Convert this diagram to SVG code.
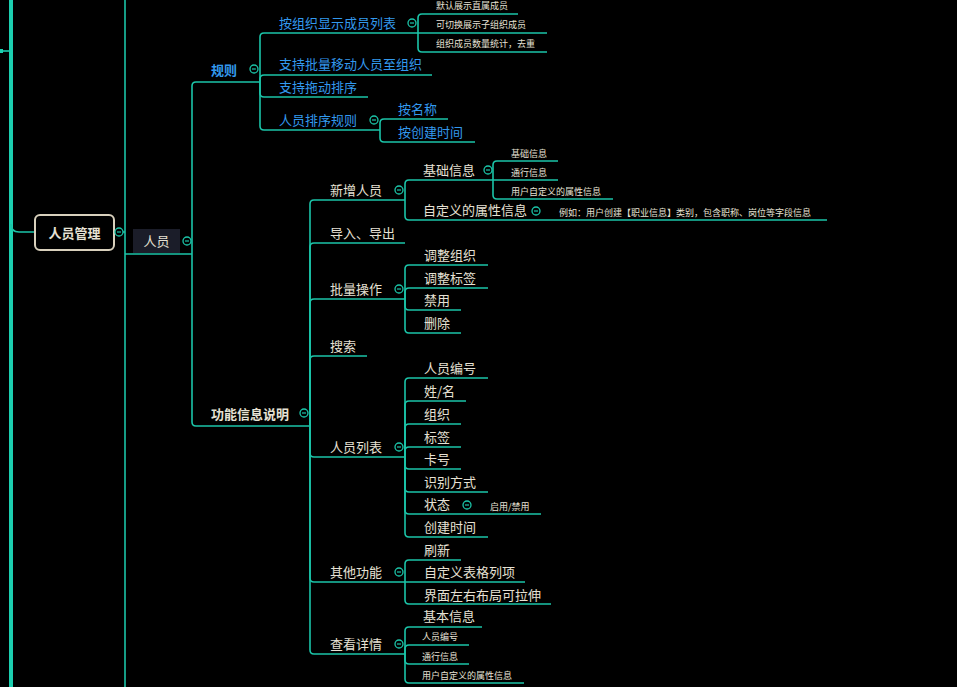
<svg xmlns="http://www.w3.org/2000/svg" width="957" height="687" viewBox="0 0 957 687">
<style>
.c{fill:none;stroke:#1bc4a8;stroke-width:1.6}
.t{font-family:"Noto Sans CJK SC","Noto Sans",sans-serif;font-size:13px;fill:#e6e1d4}
.b{font-family:"Noto Sans CJK SC","Noto Sans",sans-serif;font-size:13px;fill:#3399ee}
.bb{font-family:"Noto Sans CJK SC","Noto Sans",sans-serif;font-size:13px;font-weight:bold;fill:#3399ee}
.tb{font-family:"Noto Sans CJK SC","Noto Sans",sans-serif;font-size:13px;font-weight:bold;fill:#e6e1d4}
.s{font-family:"Noto Sans CJK SC","Noto Sans",sans-serif;font-size:9px;fill:#e6e1d4}
.k{fill:#000;stroke:#1bc4a8;stroke-width:1.3}
.m{stroke:#1bc4a8;stroke-width:1.2}
</style>
<defs>
<g id="col"><circle r="4" class="k"/><line x1="-2" y1="0" x2="2" y2="0" class="m"/></g>
</defs>
<rect width="957" height="687" fill="#000"/>
<g id="connectors">
<line x1="11" y1="0" x2="11" y2="687" stroke="#1ccfb0" stroke-width="4"/>
<line x1="0" y1="51" x2="11" y2="51" stroke="#1ccfb0" stroke-width="1.6"/>
<rect x="0" y="49" width="3" height="4" fill="#1ccfb0"/>
<path class="c" d="M11,224 Q11,232 19,232 H35" stroke-width="2"/>
<line x1="123" y1="232" x2="125" y2="232" class="c"/>
<line x1="125" y1="0" x2="125" y2="687" class="c"/>
<path class="c" d="M125,254 H192"/>
<path class="c" d="M192,254 V86 Q192,82 196,82 H260"/>
<path class="c" d="M192,254 V422 Q192,426 196,426 H310"/>
<!-- rules -->
<path class="c" d="M260,82 V37 Q260,33 264,33 H418"/>
<path class="c" d="M260,82 V79 Q260,75 264,75 H432"/>
<path class="c" d="M260,82 V93 Q260,97 264,97 H368"/>
<path class="c" d="M260,82 V126 Q260,130 264,130 H380"/>
<path class="c" d="M418,33 V18 Q418,14 422,14 H518"/>
<path class="c" d="M418,33 H547"/>
<path class="c" d="M418,33 V48 Q418,52 422,52 H547"/>
<path class="c" d="M380,130 V123 Q380,119 384,119 H448"/>
<path class="c" d="M380,130 V138 Q380,142 384,142 H475"/>
<!-- functions -->
<path class="c" d="M310,426 V204 Q310,200 314,200 H405"/>
<path class="c" d="M310,426 V247 Q310,243 314,243 H405"/>
<path class="c" d="M310,426 V303 Q310,299 314,299 H405"/>
<path class="c" d="M310,426 V360 Q310,356 314,356 H367"/>
<path class="c" d="M310,426 V453 Q310,457 314,457 H405"/>
<path class="c" d="M310,426 V578 Q310,582 314,582 H405"/>
<path class="c" d="M310,426 V650 Q310,654 314,654 H405"/>
<!-- 新增人员 -->
<path class="c" d="M405,200 V184 Q405,180 409,180 H493"/>
<path class="c" d="M405,200 V216 Q405,220 409,220 H827"/>
<path class="c" d="M493,180 V165 Q493,161 497,161 H558"/>
<path class="c" d="M493,180 H558"/>
<path class="c" d="M493,180 V195 Q493,199 497,199 H613"/>
<!-- 批量操作 -->
<path class="c" d="M405,299 V269 Q405,265 409,265 H488"/>
<path class="c" d="M405,299 V292 Q405,288 409,288 H488"/>
<path class="c" d="M405,299 V306 Q405,310 409,310 H461"/>
<path class="c" d="M405,299 V329 Q405,333 409,333 H461"/>
<!-- 人员列表 -->
<path class="c" d="M405,457 V382 Q405,378 409,378 H488"/>
<path class="c" d="M405,457 V405 Q405,401 409,401 H466"/>
<path class="c" d="M405,457 V428 Q405,424 409,424 H461"/>
<path class="c" d="M405,457 V451 Q405,447 409,447 H461"/>
<path class="c" d="M405,457 V465 Q405,469 409,469 H461"/>
<path class="c" d="M405,457 V488 Q405,492 409,492 H488"/>
<path class="c" d="M405,457 V510 Q405,514 409,514 H541"/>
<path class="c" d="M405,457 V533 Q405,537 409,537 H488"/>
<!-- 其他功能 -->
<path class="c" d="M405,582 V564 Q405,560 409,560 H461"/>
<path class="c" d="M405,582 H525"/>
<path class="c" d="M405,582 V600 Q405,604 409,604 H551"/>
<!-- 查看详情 -->
<path class="c" d="M405,654 V631 Q405,627 409,627 H482"/>
<path class="c" d="M405,654 V649 Q405,645 409,645 H469"/>
<path class="c" d="M405,654 V660 Q405,664 409,664 H469"/>
<path class="c" d="M405,654 V679 Q405,683 409,683 H524"/>
</g>
<g id="root">
<rect x="35" y="215" width="79" height="35" rx="5" fill="#000" stroke="#d8d0bc" stroke-width="2"/>
<text class="tb" x="74.5" y="237.5" text-anchor="middle">人员管理</text>
<use href="#col" x="119" y="232"/>
</g>
<g id="n-renyuan">
<rect x="133" y="229" width="47" height="24" fill="#1b1d29"/>
<text class="t" x="156.5" y="246" text-anchor="middle">人员</text>
<use href="#col" x="187" y="241"/>
</g>
<g id="n-guize"><text class="bb" x="211" y="75">规则</text><use href="#col" x="254" y="69"/></g>
<g id="n-g1"><text class="b" x="279" y="28">按组织显示成员列表</text><use href="#col" x="412" y="23"/></g>
<g id="n-g1a"><text class="s" x="436" y="9">默认展示直属成员</text></g>
<g id="n-g1b"><text class="s" x="436" y="28">可切换展示子组织成员</text></g>
<g id="n-g1c"><text class="s" x="436" y="47">组织成员数量统计，去重</text></g>
<g id="n-g2"><text class="b" x="279" y="69">支持批量移动人员至组织</text></g>
<g id="n-g3"><text class="b" x="279" y="92">支持拖动排序</text></g>
<g id="n-g4"><text class="b" x="279" y="125">人员排序规则</text><use href="#col" x="374" y="120"/></g>
<g id="n-g4a"><text class="b" x="398" y="114">按名称</text></g>
<g id="n-g4b"><text class="b" x="398" y="137">按创建时间</text></g>
<g id="n-gn"><text class="tb" x="211" y="419">功能信息说明</text><use href="#col" x="304" y="413"/></g>
<g id="n-f1"><text class="t" x="330" y="195">新增人员</text><use href="#col" x="399" y="190"/></g>
<g id="n-f1a"><text class="t" x="423" y="175">基础信息</text><use href="#col" x="488" y="170"/></g>
<g id="n-f1a1"><text class="s" x="511" y="157">基础信息</text></g>
<g id="n-f1a2"><text class="s" x="511" y="176">通行信息</text></g>
<g id="n-f1a3"><text class="s" x="511" y="195">用户自定义的属性信息</text></g>
<g id="n-f1b"><text class="t" x="423" y="215">自定义的属性信息</text><use href="#col" x="536" y="211"/></g>
<g id="n-f1b1"><text class="s" x="559" y="216">例如：用户创建【职业信息】类别，包含职称、岗位等字段信息</text></g>
<g id="n-f2"><text class="t" x="330" y="238">导入、导出</text></g>
<g id="n-f3"><text class="t" x="330" y="294">批量操作</text><use href="#col" x="399" y="289"/></g>
<g id="n-f3a"><text class="t" x="424" y="260">调整组织</text></g>
<g id="n-f3b"><text class="t" x="424" y="283">调整标签</text></g>
<g id="n-f3c"><text class="t" x="424" y="305">禁用</text></g>
<g id="n-f3d"><text class="t" x="424" y="328">删除</text></g>
<g id="n-f4"><text class="t" x="330" y="351">搜索</text></g>
<g id="n-f5"><text class="t" x="330" y="452">人员列表</text><use href="#col" x="399" y="447"/></g>
<g id="n-f5a"><text class="t" x="424" y="373">人员编号</text></g>
<g id="n-f5b"><text class="t" x="424" y="396">姓/名</text></g>
<g id="n-f5c"><text class="t" x="424" y="419">组织</text></g>
<g id="n-f5d"><text class="t" x="424" y="442">标签</text></g>
<g id="n-f5e"><text class="t" x="424" y="464">卡号</text></g>
<g id="n-f5f"><text class="t" x="424" y="487">识别方式</text></g>
<g id="n-f5g"><text class="t" x="424" y="509">状态</text><use href="#col" x="467" y="505"/></g>
<g id="n-f5g1"><text class="s" x="490" y="510">启用/禁用</text></g>
<g id="n-f5h"><text class="t" x="424" y="532">创建时间</text></g>
<g id="n-f6"><text class="t" x="330" y="577">其他功能</text><use href="#col" x="399" y="572"/></g>
<g id="n-f6a"><text class="t" x="424" y="555">刷新</text></g>
<g id="n-f6b"><text class="t" x="424" y="577">自定义表格列项</text></g>
<g id="n-f6c"><text class="t" x="424" y="600">界面左右布局可拉伸</text></g>
<g id="n-f7"><text class="t" x="330" y="649">查看详情</text><use href="#col" x="399" y="644"/></g>
<g id="n-f7a"><text class="t" x="423" y="621">基本信息</text></g>
<g id="n-f7b"><text class="s" x="422" y="640">人员编号</text></g>
<g id="n-f7c"><text class="s" x="422" y="660">通行信息</text></g>
<g id="n-f7d"><text class="s" x="422" y="679">用户自定义的属性信息</text></g>
</svg>
